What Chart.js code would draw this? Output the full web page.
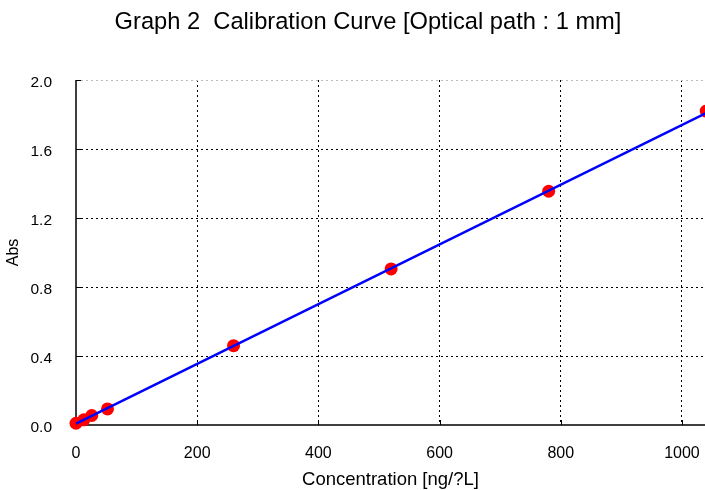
<!DOCTYPE html>
<html><head><meta charset="utf-8">
<script src="https://cdn.jsdelivr.net/npm/chart.js@4/dist/chart.umd.min.js"></script>
<style>html,body{margin:0;padding:0;background:#fff}#wrap{width:705px;height:490px}</style>
</head><body><div id="wrap"><canvas id="c" width="705" height="490"></canvas></div>
<script>
const concentrations = [0, 13, 26, 52, 260, 520, 780, 1040];
const absorbance = [0.01, 0.03, 0.055, 0.093, 0.46, 0.905, 1.355, 1.82];
const fitX = [0, 1040];
const fitY = [0.008, 1.808];
const xTicks = [0, 200, 400, 600, 800, 1000];
const yTicks = [0.0, 0.4, 0.8, 1.2, 1.6, 2.0];
const chartTitle = 'Graph 2\u00a0\u00a0Calibration Curve [Optical path : 1 mm]';

const FONT = "'Liberation Sans', Arial, sans-serif";

const decor = {
  id: 'decor',
  beforeDatasetsDraw(chart) {
    const {ctx, chartArea, scales} = chart;
    ctx.save();
    ctx.strokeStyle = '#000';
    ctx.lineWidth = 1.5;
    ctx.beginPath();
    ctx.moveTo(chartArea.left, chartArea.top);
    ctx.lineTo(chartArea.left, chartArea.bottom);
    ctx.lineTo(chartArea.right, chartArea.bottom);
    ctx.stroke();
    ctx.lineWidth = 1;
    ctx.beginPath();
    xTicks.forEach(v => {
      const px = Math.round(scales.x.getPixelForValue(v)) + 0.5;
      ctx.moveTo(px, chartArea.bottom);
      ctx.lineTo(px, chartArea.bottom - 5);
    });
    yTicks.forEach(v => {
      const py = Math.round(scales.y.getPixelForValue(v)) + 0.5;
      ctx.moveTo(chartArea.left, py);
      ctx.lineTo(chartArea.left + 5, py);
    });
    ctx.stroke();
    ctx.fillStyle = '#000';
    ctx.font = '23.7px ' + FONT;
    ctx.textAlign = 'center';
    ctx.textBaseline = 'middle';
    ctx.fillText(chartTitle, 368, 22);
    ctx.restore();
  }
};

new Chart(document.getElementById('c'), {
  type: 'scatter',
  data: {
    datasets: [
      {
        type: 'line',
        data: fitX.map((x, i) => ({x, y: fitY[i]})),
        borderColor: '#0000ff',
        borderWidth: 2.5,
        pointRadius: 0,
        fill: false,
        clip: false
      },
      {
        data: concentrations.map((x, i) => ({x, y: absorbance[i]})),
        backgroundColor: '#ff0000',
        borderWidth: 0,
        pointRadius: 6.5,
        clip: false
      }
    ]
  },
  options: {
    responsive: false,
    animation: false,
    devicePixelRatio: 1,
    layout: {autoPadding: false, padding: {left: 0, right: 0, top: 80, bottom: 0}},
    plugins: {
      legend: {display: false},
      tooltip: {enabled: false},
      title: {display: false}
    },
    scales: {
      x: {
        type: 'linear',
        min: 0,
        max: 1038,
        afterBuildTicks: s => { s.ticks = xTicks.map(v => ({value: v})); },
        afterFit: s => { s.height = 65; s.paddingLeft = 0; s.paddingRight = 0; },
        ticks: {color: '#000', font: {family: FONT, size: 16}, padding: 19, callback: v => String(v)},
        grid: {color: ctx => (ctx.tick && ctx.tick.value === 0 ? 'rgba(0,0,0,0)' : '#000'), lineWidth: 1, drawTicks: false},
        border: {display: false, dash: [2, 3]},
        title: {display: true, text: 'Concentration [ng/?L]', color: '#000', font: {family: FONT, size: 18.5, lineHeight: 1.1}, padding: {top: 0, bottom: 0}}
      },
      y: {
        type: 'linear',
        min: 0,
        max: 2,
        afterBuildTicks: s => { s.ticks = yTicks.map(v => ({value: v})); },
        afterFit: s => { s.width = 76; s.paddingTop = 0; s.paddingBottom = 0; },
        ticks: {color: '#000', font: {family: FONT, size: 15.5}, padding: 24, labelOffset: 3, callback: v => Number(v).toFixed(1)},
        grid: {color: ctx => (ctx.tick && ctx.tick.value === 2 ? '#bbbbbb' : (ctx.tick && ctx.tick.value === 0 ? 'rgba(0,0,0,0)' : '#000')), lineWidth: 1, drawTicks: false},
        border: {display: false, dash: [2, 3]},
        title: {display: true, text: 'Abs', color: '#000', font: {family: FONT, size: 16}, padding: {top: 4, bottom: 0}}
      }
    }
  },
  plugins: [decor]
});
</script>
</body></html>
